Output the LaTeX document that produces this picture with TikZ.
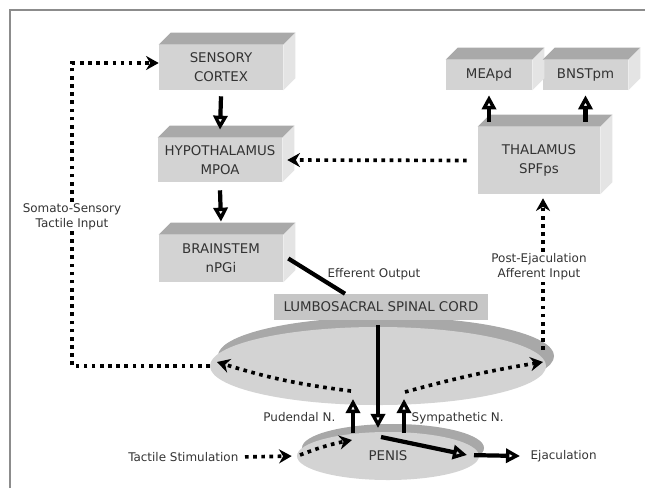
\documentclass[tikz,border=0pt]{standalone}
\usepackage{fontspec}
\setmainfont{DejaVu Sans}
\usepackage{xcolor}
\definecolor{ink}{HTML}{333333}
\definecolor{face}{HTML}{D3D3D3}
\definecolor{lid}{HTML}{A9A9A9}
\definecolor{flank}{HTML}{E4E4E4}
\definecolor{rim}{HTML}{A8A8A8}
\definecolor{cordgray}{HTML}{C6C6C6}
\definecolor{frame}{HTML}{8C8C8C}
\usetikzlibrary{arrows.meta,calc,shapes.geometric,shadows}

\begin{document}
\begin{tikzpicture}[
      x=0.025cm, y=-0.025cm,
      every node/.style={font=\fontsize{8.5}{10.5}\selectfont, text=ink},
      cube/.style={fill=face, inner sep=0pt, align=center,
        font=\fontsize{9.5}{13.5}\selectfont},
      disk/.style 2 args={ellipse, fill=face, inner sep=0pt,
        drop shadow={shadow xshift=#1, shadow yshift=#2, fill=rim, opacity=1}},
      lbl/.style={inner sep=1pt, align=center},
      arr/.style={-{Triangle[open, length=10pt, width=10pt, line width=2.4pt]}, line width=3pt},
      darr/.style={-{Stealth[length=9pt, width=10pt]}, line width=2.6pt, dash pattern=on 2.6pt off 3.2pt},
    ]
      \useasboundingbox (0,0) rectangle (645,488);
      \draw[frame, line width=1pt] (10,488) -- (10,10) -- (645,10);

      % brain boxes
      \node[cube, minimum width=3.1cm, minimum height=1.125cm] (sensory) at (221,67.5) {SENSORY\\CORTEX};
      \node[cube, minimum width=3.1cm, minimum height=1.1cm] (hypo) at (220,160) {HYPOTHALAMUS\\MPOA};
      \node[cube, minimum width=3.1cm, minimum height=1.175cm] (brain) at (221,258.5) {BRAINSTEM\\nPGi};
      \node[cube, minimum width=3.05cm, minimum height=1.675cm] (thal) at (539,160.5) {THALAMUS\\SPFps};
      \node[cube, minimum width=2.15cm, minimum height=0.75cm] (mea) at (489,75) {MEApd};
      \node[cube, minimum width=2.125cm, minimum height=0.75cm] (bnst) at (585.5,75) {BNSTpm};
      \foreach \n in {sensory,hypo,brain,thal,mea,bnst}{
        \fill[lid] (\n.north west) -- ++(12,-12) -- ([shift={(12,-12)}]\n.north east) -- (\n.north east) -- cycle;
        \fill[flank] (\n.north east) -- ++(12,-12) -- ([shift={(12,-12)}]\n.south east) -- (\n.south east) -- cycle;
      }

      % spinal cord and penis
      \node[disk={0.2cm}{0.25cm}, minimum width=8.4cm, minimum height=1.95cm] (cord) at (378,366) {};
      \node[fill=cordgray, minimum width=5.35cm, minimum height=0.65cm, inner sep=0pt,
        font=\fontsize{9.5}{11}\selectfont] (lumbo) at (381,307) {LUMBOSACRAL SPINAL CORD};
      \node[disk={0.125cm}{0.2cm}, minimum width=4.55cm, minimum height=1.2cm,
        font=\fontsize{9.5}{11}\selectfont] (penis) at (388,456) {PENIS};

      \coordinate (ltop) at (72,63);
      \coordinate (cl1) at (351,391);
      \coordinate (cl2) at (217,362);
      \coordinate (cr1) at (405,392);
      \coordinate (cr2) at (543,362);
      \coordinate (rbot) at (543,350);
      \coordinate (pd1) at (300,455);
      \coordinate (pd2) at (352,440);
      \coordinate (spin) at (378,428);
      \coordinate (pe1) at (381,437);
      \coordinate (pe2) at (467,455);
      \coordinate (pud1) at (353,433);
      \coordinate (pud2) at (353,399);
      \coordinate (sym1) at (404,433);
      \coordinate (sym2) at (404,399);

      \node[lbl, anchor=east] (tact) at (240,457) {Tactile Stimulation};
      \node[lbl, anchor=west] (ejac) at (529,456) {Ejaculation};

      % solid pathways
      \draw[arr] ([yshift=-0.15cm]sensory.south) -- ([yshift=0.2cm]hypo.north);
      \draw[arr] ([yshift=-0.2cm]hypo.south) -- ([yshift=0.325cm]brain.north);
      \draw[line width=3pt] ([xshift=0.125cm]brain.east) -- ([xshift=-0.9cm]lumbo.north);
      \draw[arr] ($(lumbo.south -| spin)+(0,5)$) -- (spin);
      \draw[arr] (pe1) -- (pe2);
      \draw[arr, shorten <=0.175cm] (pe2) -- ([xshift=-0.225cm]ejac.west);
      \draw[arr] (pud1) -- (pud2);
      \draw[arr] (sym1) -- (sym2);
      \draw[arr, shorten <=0.125cm, shorten >=0.125cm] (mea.south |- thal.north) -- (mea.south);
      \draw[arr, shorten <=0.125cm, shorten >=0.125cm] (bnst.south |- thal.north) -- (bnst.south);

      % dotted pathways
      \draw[darr] (cl1) to[bend left=5] (cl2);
      \draw[darr] (cr1) to[bend left=3] (cr2);
      \draw[darr] (cord.west) -| (ltop) -- (sensory.west |- ltop);
      \draw[darr, shorten >=0.1cm] (rbot) -- (rbot |- thal.south);
      \draw[darr, shorten <=0.275cm, shorten >=0.125cm] (thal.west) -- (hypo.east);
      \draw[darr, shorten <=0.125cm, shorten >=0.125cm] (tact.east) -- (penis.west);
      \draw[darr] (pd1) to[bend left=5] (pd2);

      % labels
      \node[lbl, fill=white] (somato) at (72,217) {Somato-Sensory\\Tactile Input};
      \node[lbl, fill=white] (postej) at (539,267) {Post-Ejaculation\\Afferent Input};
      \node[lbl, anchor=west] (effout) at (326,274) {Efferent Output};
      \node[lbl, anchor=east] (pud) at (337,417) {Pudendal N.};
      \node[lbl, anchor=west] (symp) at (410,418) {Sympathetic N.};
    \end{tikzpicture}
\end{document}
